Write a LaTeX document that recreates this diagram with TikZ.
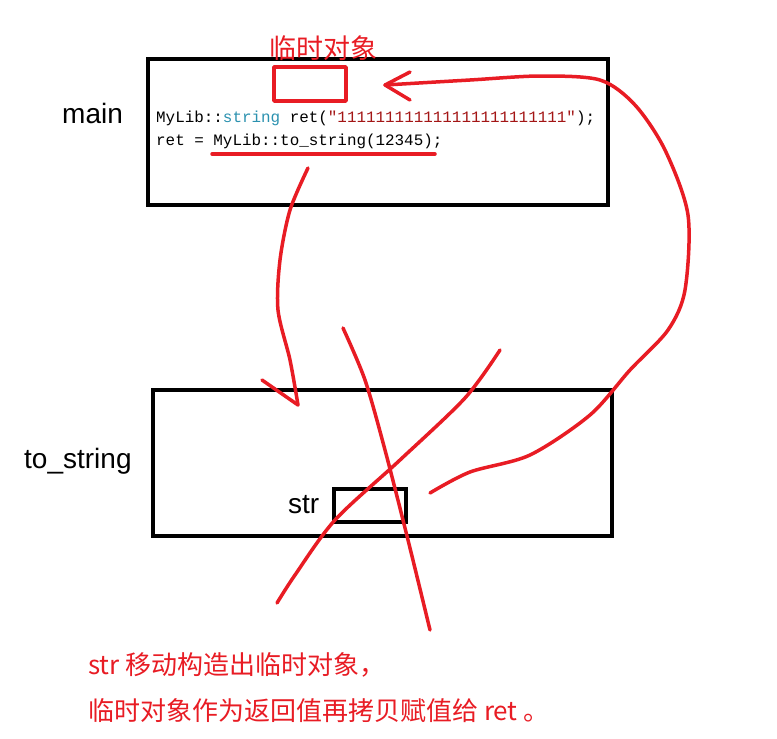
\documentclass[tikz,border=0pt]{standalone}
\usepackage{fontspec}
\setmainfont{Liberation Sans}
\newfontfamily\cjk{Noto Sans CJK SC}
\newfontfamily\codefont{Liberation Mono}
\definecolor{pen}{RGB}{232,28,36}
\definecolor{kw}{RGB}{43,145,175}
\definecolor{strc}{RGB}{163,21,21}
\begin{document}
\begin{tikzpicture}[x=1pt,y=-1pt,
  blk/.style={draw=black,line width=3.5pt},
  ink/.style={draw=pen,line width=3.5pt,line cap=round,line join=round},
  lbl/.style={font=\fontsize{28}{32}\selectfont,inner sep=0pt},
  code/.style={font=\codefont\fontsize{15.9}{18}\selectfont,anchor=base west,inner sep=0pt}]
\useasboundingbox (0,0) rectangle (777,739);
\draw[blk] (148,59) rectangle (608,205);
\draw[blk] (153,390) rectangle (612,536);
\draw[blk] (334,489) rectangle (406,522);
\draw[ink] (274,67) rectangle (346,101);
\node[lbl,anchor=west] (m) at (62,113) {main};
\node[lbl,anchor=west] (t) at (24,461) {to\_string};
\node[lbl,anchor=west] (s) at (288,505) {str};
\node[lbl,text=pen,font=\cjk\fontsize{27}{30}\selectfont] (tmp) at (323,48) {临时对象};
\node[code] (c1) at (156,122) {MyLib::\textcolor{kw}{string} ret(\textcolor{strc}{"111111111111111111111111"});};
\node[code] (c2) at (156,145) {ret = MyLib::to\_string(12345);};
\node[text=pen,anchor=west,inner sep=0pt,font=\cjk\fontsize{26}{30}\selectfont] (n1) at (88,665) {str 移动构造出临时对象，};
\node[text=pen,anchor=west,inner sep=0pt,font=\cjk\fontsize{26}{30}\selectfont] (n2) at (88,711) {临时对象作为返回值再拷贝赋值给 ret 。};
\draw[ink] (212,154) -- (435,154);
\draw[ink] plot[smooth] coordinates {(308,168) (290,210) (280,260) (278,310) (290,360) (298,405)};
\draw[ink] (262,380) -- (298,405);
\draw[ink] plot[smooth] coordinates {(430,493) (470,472) (530,455) (590,415) (630,370) (668,330) (685,290) (688,215) (665,150) (635,105) (600,80) (540,76) (470,80) (385,85)};
\draw[ink] (410,72) -- (385,85) -- (410,100);
\draw[ink] plot[smooth] coordinates {(343,328) (365,380) (385,450) (408,540) (430,630)};
\draw[ink] plot[smooth] coordinates {(500,350) (465,398) (400,460) (335,520) (295,575) (277,603)};
\end{tikzpicture}
\end{document}
